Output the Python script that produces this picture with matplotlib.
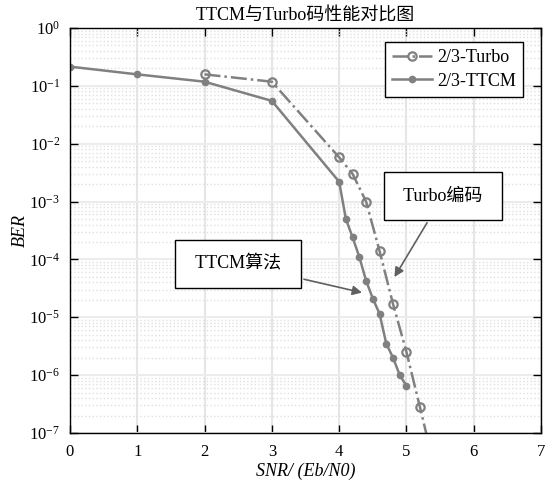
import matplotlib
matplotlib.use('Agg')
import matplotlib.pyplot as plt
from matplotlib.ticker import NullFormatter, FixedLocator

plt.rcParams['font.family'] = ['Liberation Serif', 'Noto Sans CJK SC']
plt.rcParams['mathtext.fontset'] = 'stix'

# 数据
snr_ttcm = [0, 1, 2, 3, 4.0, 4.1, 4.2, 4.3, 4.4, 4.5, 4.6, 4.7, 4.8, 4.9, 5.0]
ber_ttcm = [0.215, 0.158, 0.118, 0.055, 2.2e-3, 5e-4, 2.4e-4, 1.1e-4, 4.3e-5,
            2.1e-5, 1.15e-5, 3.5e-6, 2.0e-6, 1.0e-6, 6.5e-7]
snr_turbo = [2, 3, 4.0, 4.2, 4.4, 4.6, 4.8, 5.0, 5.2, 5.4]
ber_turbo = [0.158, 0.118, 5.8e-3, 3.0e-3, 1.0e-3, 1.4e-4, 1.7e-5, 2.5e-6,
             2.8e-7, 3e-8]
y_ticks = [1e-7, 1e-6, 1e-5, 1e-4, 1e-3, 1e-2, 1e-1, 1]

line_color = '#808080'

fig = plt.figure(figsize=(5.59, 4.87), dpi=100)
ax = fig.add_axes([0.125, 0.111, 0.843, 0.8315])

ax.semilogy(snr_turbo, ber_turbo, '-.o', color=line_color, lw=1.8,
            markersize=6, markerfacecolor='none', markeredgewidth=1.6,
            label='2/3-Turbo')
ax.semilogy(snr_ttcm, ber_ttcm, '-o', color=line_color, lw=1.8,
            markersize=4.5, label='2/3-TTCM')

ax.set_xlim(0, 7)
ax.set_ylim(1e-7, 1)
ax.set_xticks(range(8))
ax.set_yticks(y_ticks)
minor = [m * t for t in y_ticks[:-1] for m in range(2, 10)]
ax.yaxis.set_minor_locator(FixedLocator(minor))
ax.yaxis.set_minor_formatter(NullFormatter())

ax.grid(True, which='major', axis='x', color='#e6e6e6', lw=1.5)
ax.grid(True, which='major', axis='y', color='#ececec', lw=1.5)
ax.grid(True, which='minor', axis='y', color='#e0e0e0', lw=1.0, ls=':')
ax.set_axisbelow(True)

ax.tick_params(which='both', direction='in', top=True, right=True,
               labelsize=12)
ax.tick_params(which='major', length=6, width=1)
ax.tick_params(axis='y', pad=7)
ax.tick_params(axis='x', pad=8)
ax.tick_params(which='minor', length=0)
for s in ax.spines.values():
    s.set_linewidth(1.0)

ax.set_title('TTCM与Turbo码性能对比图', fontsize=13, pad=5)
ax.set_xlabel('SNR/ (Eb/N0)', fontsize=13, style='italic', labelpad=2)
ax.set_ylabel('BER', fontsize=13, style='italic')
ax.yaxis.set_label_coords(-0.087, 0.5)

leg = ax.legend(loc='upper right', bbox_to_anchor=(0.962, 0.965), fontsize=13,
                fancybox=False, edgecolor='black', framealpha=1,
                handlelength=2.2, handletextpad=0.3, borderpad=0.4,
                labelspacing=0.35, borderaxespad=0)
leg.get_frame().set_linewidth(1.0)

box = dict(boxstyle='square,pad=0.85', fc='white', ec='black', lw=1.0)
arrow = dict(arrowstyle='-|>', color='#606060', lw=1.2, mutation_scale=14)
ax.annotate(' Turbo编码 ', xy=(4.80, 4.5e-5), xytext=(0.792, 0.585),
            textcoords='axes fraction', ha='center', va='center',
            fontsize=13, bbox=box, arrowprops=arrow)
ax.annotate(' TTCM算法 ', xy=(4.38, 2.6e-5), xytext=(0.357, 0.417),
            textcoords='axes fraction', ha='center', va='center',
            fontsize=13, bbox=box, arrowprops=arrow)

plt.savefig('out.png', dpi=100)
